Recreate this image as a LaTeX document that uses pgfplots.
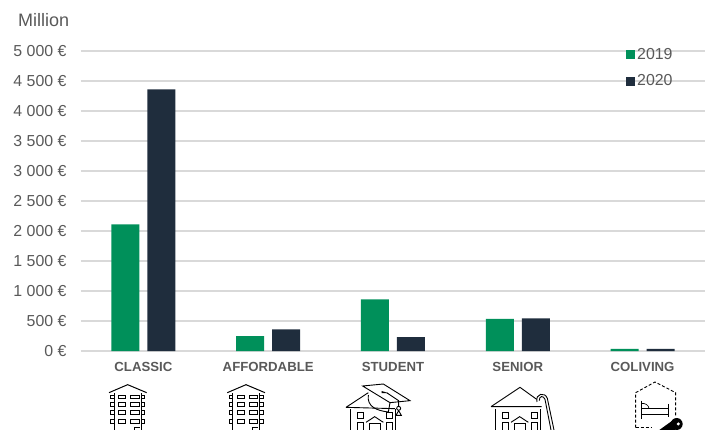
\documentclass[border=0pt]{standalone}
\usepackage{pgfplots}
\pgfplotsset{compat=1.18}
\usepackage{fontspec}
\setmainfont{Liberation Sans}
\definecolor{barA}{HTML}{00905A}
\definecolor{barB}{HTML}{1F2D3D}
\definecolor{gridc}{HTML}{D9D9D9}
\definecolor{txt}{HTML}{595959}
% Line drawing of an apartment block
\newcommand{\blockicon}{%
  \draw (27,38) -- (83,14) -- (140,38);
  \draw (43,40) -- (43,150) (125,40) -- (125,150);
  \foreach \y/\h in {46/11,69/11,93/11,118/14}{
    \draw (57,\y) rectangle ++(21,\h);
    \draw (93,\y) rectangle ++(26,\h);
    \draw (33,\y) rectangle ++(10,\h);
    \draw (125,\y) rectangle ++(10,\h);
  }
  \draw (103,150) -- (103,142) -- (120,142);
}
% Line drawing of a house front with windows and a small gable
\newcommand{\houseicon}{%
  \draw (32,88) -- (32,150) (165,88) -- (165,150);
  \draw (52,96) rectangle (71,114);
  \draw (138,96) rectangle (156,114);
  \draw (52,150) -- (52,127) -- (71,127) -- (71,150);
  \draw (138,150) -- (138,127) -- (156,127) -- (156,150);
  \draw (78,127) -- (104,110) -- (130,127);
  \draw (88,150) -- (88,131) -- (120,131) -- (120,150);
}
\begin{document}
\begin{tikzpicture}[x=1pt,y=1pt]
\path[use as bounding box] (0,0) rectangle (710,429);
\begin{axis}[
  at={(81pt,78pt)}, anchor=south west,
  scale only axis, width=624pt, height=300pt,
  xmin=-0.5, xmax=4.5, ymin=0, ymax=5000,
  ybar,
  xtick={0,1,2,3,4},
  xticklabels={CLASSIC,AFFORDABLE,STUDENT,SENIOR,COLIVING},
  x tick label style={font=\fontsize{13.2}{14}\selectfont\bfseries,text=txt,yshift=-8pt},
  ytick={0,500,...,5000},
  yticklabels={0 €,500 €,1 000 €,1 500 €,2 000 €,2 500 €,3 000 €,3 500 €,4 000 €,4 500 €,5 000 €},
  y tick label style={font=\fontsize{15.9}{16}\selectfont,text=txt,anchor=east,xshift=-11pt},
  ymajorgrids, grid style={gridc,line width=1.4pt},
  major tick length=0pt,
  axis line style={draw=none},
  axis x line*=bottom, axis y line*=left,
  legend style={at={(545pt,300pt)},anchor=north west,draw=none,fill=none,
    font=\fontsize{15.9}{16}\selectfont,text=txt,row sep=10pt,inner sep=0pt,yshift=5pt},
  legend cell align=left,
  legend image code/.code={\fill[#1] (0pt,-4.5pt) rectangle (9pt,4.5pt);},
]
\addplot[fill=barA,draw=none,bar width=28pt,bar shift=-18pt] coordinates {(0,2110) (1,250) (2,860) (3,535) (4,35)};
\addplot[fill=barB,draw=none,bar width=28pt,bar shift=18pt] coordinates {(0,4360) (1,360) (2,230) (3,545) (4,35)};
\legend{2019,2020}
\end{axis}
\node[anchor=west,inner sep=0pt,font=\fontsize{18}{18}\selectfont,text=txt] at (18,409) {Million};
\clip (0,0) rectangle (710,429);
% Classic and affordable
\begin{scope}[shift={(100pt,49pt)},x=0.3333pt,y=-0.3333pt,line width=1pt]\blockicon\end{scope}
\begin{scope}[shift={(218.3pt,49pt)},x=0.3333pt,y=-0.3333pt,line width=1pt]\blockicon\end{scope}
% Student: house with a mortarboard
\begin{scope}[shift={(340pt,49pt)},x=0.3333pt,y=-0.3333pt,line width=0.9pt]
  \houseicon
  \draw (18,82) -- (85,38) (18,82) -- (165,86);
  \fill[white] (68,18) -- (130,12) -- (210,62) -- (150,68) -- cycle;
  \draw (68,18) -- (130,12) -- (210,62) -- (150,68) -- cycle;
  \draw (85,45) .. controls (80,80) and (110,92) .. (145,96) -- (150,68);
  \fill (125,33) -- (147,40) -- (125,39) -- cycle;
  \draw (140,38) -- (176,62) -- (176,78);
  \draw (176,85) circle (6);
  \draw (176,92) -- (168,106) -- (184,106) -- cycle;
\end{scope}
% Senior: house with a walking cane
\begin{scope}[shift={(485pt,49pt)},x=0.3333pt,y=-0.3333pt,line width=0.9pt]
  \houseicon
  \draw (18,80) -- (105,22) -- (155,58) (18,80) -- (170,80);
  \draw (156,66) .. controls (150,40) and (180,35) .. (187,55) -- (207,150);
  \draw (163,62) .. controls (162,48) and (175,45) .. (180,58) -- (198,150);
\end{scope}
% Coliving: dashed plot outline with a bed and a key
\begin{scope}[shift={(625pt,49pt)},x=0.3333pt,y=-0.3333pt,line width=0.9pt]
  \draw[dash pattern=on 3pt off 2pt] (32,143) -- (80,143);
  \draw[dash pattern=on 3pt off 2pt] (32,143) -- (32,38) -- (90,6) -- (152,38) -- (152,110);
  \draw[line width=0.7pt] (50,62) -- (50,118) (130,72) -- (130,112) (50,85) -- (130,85) (50,103) -- (130,103);
  \draw[line width=0.7pt] (50,70) .. controls (62,70) and (70,75) .. (72,85);
  \fill (103,150) -- (142,122) -- (150,150) -- cycle;
  \fill (155,132) circle (18);
  \fill[white] (160,132) circle (5);
\end{scope}
\end{tikzpicture}
\end{document}
